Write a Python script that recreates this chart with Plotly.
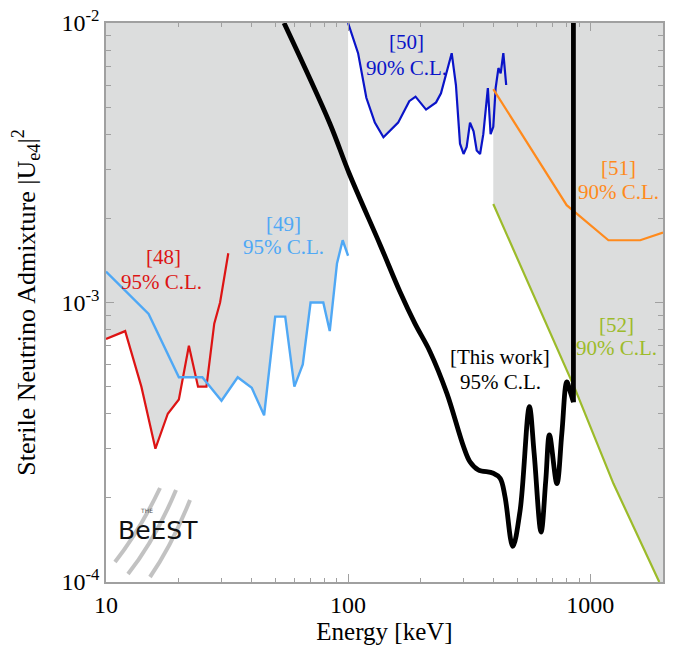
import numpy as np
import plotly.graph_objects as go

# ---------------- data ----------------
# [48] 95% C.L.
red_E = [10, 12, 14, 16, 18, 20, 22, 24, 26, 28, 29.6, 32]
red_U = [7.4e-4, 7.9e-4, 5.0e-4, 3.0e-4, 4.0e-4, 4.5e-4, 7.0e-4, 5.0e-4, 5.0e-4, 8.4e-4, 1.0e-3, 1.5e-3]

# [49] 95% C.L.
lb_E = [10, 15, 20, 25, 30, 35, 40, 45, 50, 55, 60, 65, 70, 79, 84, 90, 95, 100]
lb_U = [1.29e-3, 9.1e-4, 5.4e-4, 5.4e-4, 4.45e-4, 5.4e-4, 4.95e-4, 3.95e-4, 8.9e-4, 8.9e-4,
        5.0e-4, 6.0e-4, 1.0e-3, 1.0e-3, 7.9e-4, 1.38e-3, 1.67e-3, 1.47e-3]

# [50] 90% C.L.
db_E = [100, 110, 119, 129, 140, 161, 179, 190, 210, 231, 242, 268, 279, 290, 300, 309,
        319, 330, 340, 351, 362, 378, 388, 398, 407, 418, 427, 438, 450]
db_U = [1.0e-2, 7.8e-3, 5.4e-3, 4.4e-3, 3.9e-3, 4.4e-3, 5.25e-3, 5.45e-3, 4.9e-3, 5.2e-3,
        5.6e-3, 7.8e-3, 6.0e-3, 3.7e-3, 3.4e-3, 3.6e-3, 4.4e-3, 4.1e-3, 3.5e-3, 3.4e-3,
        4.0e-3, 5.85e-3, 4.0e-3, 4.25e-3, 5.85e-3, 6.9e-3, 6.6e-3, 7.8e-3, 6.0e-3]

# [51] 90% C.L.
or_E = [398, 800, 1190, 1610, 2000]
or_U = [5.8e-3, 2.23e-3, 1.67e-3, 1.67e-3, 1.78e-3]

# [52] 90% C.L.
gr_E = [398, 867, 1248, 1930]
gr_U = [2.25e-3, 4.9e-4, 2.25e-4, 1.0e-4]

# This work 95% C.L.
bk_E = [54.4, 84, 101, 136, 164, 189, 218, 256, 300, 319, 345, 398, 425, 445, 479, 514, 561, 587,
        627, 656, 679, 729, 764, 801, 827, 853, 853]
bk_U = [1.0e-2, 4.38e-3, 2.9e-3, 1.6e-3, 1.09e-3, 8.4e-4, 6.67e-4, 4.73e-4, 3.05e-4, 2.69e-4, 2.52e-4,
        2.45e-4, 2.35e-4, 2.02e-4, 1.34e-4, 1.81e-4, 4.24e-4, 2.89e-4, 1.51e-4, 2.32e-4,
        3.36e-4, 2.25e-4, 3.4e-4, 5.2e-4, 4.8e-4, 4.4e-4, 1.0e-2]

x_ticks = [10, 100, 1000]
x_ticktext = ["10", "100", "1000"]
y_ticks = [1e-4, 1e-3, 1e-2]
y_ticktext = ["10<sup>-4</sup>", "10<sup>-3</sup>", "10<sup>-2</sup>"]

X_MIN, X_MAX = 10, 2000
Y_MIN, Y_MAX = 1e-4, 1e-2

# ---------------- colours ----------------
C_RED = "#dd1414"
C_LB = "#4fa8f5"
C_DB = "#0a14c8"
C_OR = "#ff8a1c"
C_GR = "#9cbb2a"
C_BK = "#000000"
C_FILL = "#dcdddd"
C_AX = "#a0a0a0"
FONT = "Liberation Serif"


def loginterp(xq, x, y):
    return 10 ** np.interp(np.log10(xq), np.log10(x), np.log10(y))


fig = go.Figure()

# ---- excluded region below 100 keV: above min([48], [49]) ----
gridA = np.unique(np.concatenate([np.logspace(np.log10(lb_E[0]), np.log10(lb_E[-1]), 800), red_E, lb_E]))
lowA = loginterp(gridA, lb_E, lb_U)
m = gridA <= red_E[-1]
lowA[m] = np.minimum(lowA[m], loginterp(gridA[m], red_E, red_U))
fig.add_trace(go.Scatter(
    x=list(gridA) + [lb_E[-1], lb_E[0]], y=list(lowA) + [Y_MAX, Y_MAX],
    fill="toself", fillcolor=C_FILL, line=dict(width=0), mode="lines",
    hoverinfo="skip", showlegend=False))

# ---- excluded region above 100 keV: above [50] then above [52] ----
db_E_a = np.array(db_E); db_U_a = np.array(db_U)
mb = db_E_a <= gr_E[0]
polyx = list(db_E_a[mb]) + list(gr_E) + [X_MAX, X_MAX]
polyy = list(db_U_a[mb]) + list(gr_U) + [Y_MIN, Y_MAX]
fig.add_trace(go.Scatter(
    x=polyx, y=polyy, fill="toself", fillcolor=C_FILL, line=dict(width=0), mode="lines",
    hoverinfo="skip", showlegend=False))

# ---- curves ----
def line(x, y, color, width, shape="linear"):
    fig.add_trace(go.Scatter(x=x, y=y, mode="lines",
                             line=dict(color=color, width=width, shape=shape, smoothing=1.0),
                             hoverinfo="skip", showlegend=False))

line(red_E, red_U, C_RED, 2.2)
line(lb_E, lb_U, C_LB, 2.4)
line(db_E, db_U, C_DB, 2.2)
line(or_E, or_U, C_OR, 2.2)
line(gr_E, gr_U, C_GR, 2.2)
line(bk_E[:-1], bk_U[:-1], C_BK, 4.8, shape="spline")
line(bk_E[-2:], bk_U[-2:], C_BK, 4.8)

# ---- labels ----
labels = [
    ("[48]", 17.2, 1.455e-3, C_RED), ("95% C.L.", 17.0, 1.184e-3, C_RED),
    ("[49]", 53.9, 1.91e-3, C_LB), ("95% C.L.", 53.9, 1.58e-3, C_LB),
    ("[50]", 175, 8.57e-3, C_DB), ("90% C.L.", 175, 6.88e-3, C_DB),
    ("[51]", 1309, 3.02e-3, C_OR), ("90% C.L.", 1309, 2.49e-3, C_OR),
    ("[52]", 1289, 8.31e-4, C_GR), ("90% C.L.", 1289, 6.86e-4, C_GR),
    ("[This work]", 425, 6.4e-4, C_BK), ("95% C.L.", 425, 5.2e-4, C_BK),
]
for t, xe, yu, c in labels:
    fig.add_annotation(x=np.log10(xe), y=np.log10(yu), text=t, showarrow=False,
                       font=dict(family=FONT, size=21, color=c), xanchor="center", yanchor="middle")

# ---- logo (decorative) ----
def px2paper(px, py):
    return (px - 106) / 557, (582 - py) / 559

for (x0, y0), (xc, yc), (x1, y1) in [((115, 562), (140, 530), (160, 488)),
                                       ((128, 574), (155, 540), (176, 490)),
                                       ((150, 577), (172, 545), (190, 500))]:
    a = px2paper(x0, y0); b = px2paper(xc, yc); c = px2paper(x1, y1)
    fig.add_shape(type="path", xref="paper", yref="paper",
                  path=f"M {a[0]},{a[1]} Q {b[0]},{b[1]} {c[0]},{c[1]}",
                  line=dict(color="#b4b4b4", width=4), opacity=0.8, layer="above")
lx, ly = px2paper(158, 530)
fig.add_annotation(xref="paper", yref="paper", x=lx, y=ly, text="BeEST", showarrow=False,
                   font=dict(family="DejaVu Sans", size=25, color="#111111"),
                   xanchor="center", yanchor="middle")
tx, ty = px2paper(146, 511)
fig.add_annotation(xref="paper", yref="paper", x=tx, y=ty, text="THE", showarrow=False,
                   font=dict(family="DejaVu Sans", size=6, color="#555555"),
                   xanchor="center", yanchor="middle")

axis_common = dict(type="log", showline=True, linecolor=C_AX, linewidth=1.5, mirror="allticks",
                   ticks="inside", ticklen=8, tickwidth=1.2, tickcolor=C_AX,
                   showgrid=False, zeroline=False, automargin=False, ticklabeloverflow="allow",
                   tickfont=dict(family=FONT, size=24, color="black"))

minor_x = [k * 10 ** d for d in range(1, 4) for k in range(2, 10) if k * 10 ** d <= X_MAX]
minor_y = [k * 10.0 ** d for d in (-4, -3) for k in range(2, 10)]

fig.update_xaxes(**axis_common, range=[np.log10(X_MIN), np.log10(X_MAX)],
                 tickmode="array", tickvals=x_ticks, ticktext=x_ticktext,
                 minor=dict(tickvals=minor_x, ticks="inside", ticklen=4, tickcolor=C_AX, showgrid=False),
                 title=dict(text="Energy [keV]", font=dict(family=FONT, size=25, color="black"), standoff=4))
fig.update_yaxes(**axis_common, range=[np.log10(Y_MIN), np.log10(Y_MAX)],
                 tickmode="array", tickvals=y_ticks, ticktext=y_ticktext,
                 minor=dict(tickvals=minor_y, ticks="inside", ticklen=5, tickcolor=C_AX, showgrid=False),
                 title=dict(text="Sterile Neutrino Admixture |U<sub>e4</sub>|<sup>2</sup>",
                            font=dict(family=FONT, size=26, color="black"), standoff=30))

# the page adds ~8 px of body margin, so the margins are reduced by that amount
fig.update_layout(width=677, height=647, margin=dict(l=98, r=22, t=15, b=73),
                  plot_bgcolor="white", paper_bgcolor="white", showlegend=False)

fig.write_html("out.html")
